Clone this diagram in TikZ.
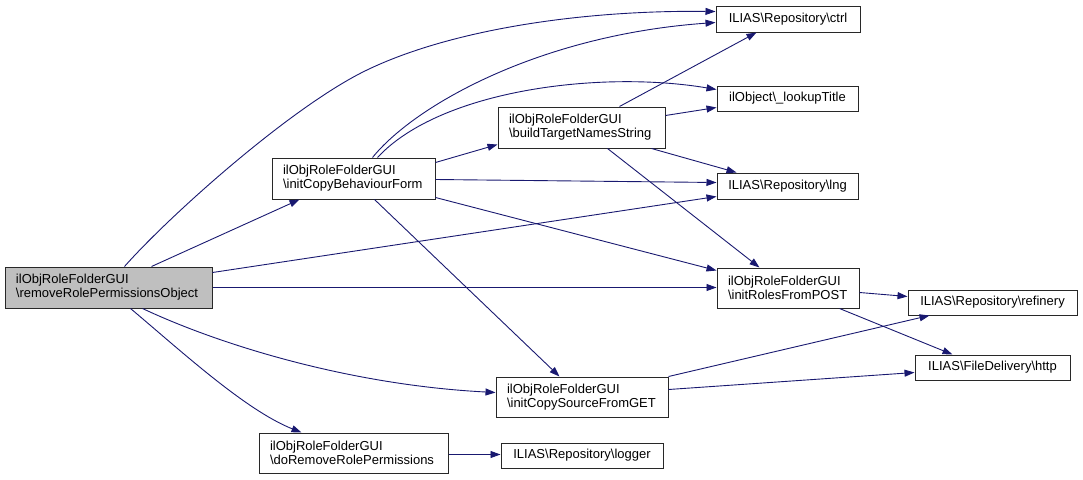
\documentclass[tikz,border=0pt]{standalone}
\usepackage{fontspec}
\setmainfont{Liberation Sans}
\usetikzlibrary{arrows.meta,calc}
\definecolor{edgec}{RGB}{25,25,112}
\definecolor{boxc}{RGB}{40,40,40}
\definecolor{mainfill}{RGB}{191,191,191}
\tikzset{
  fn/.style={draw=boxc, line width=1pt, fill=white, inner xsep=11pt, inner ysep=0pt,
    font=\fontsize{13}{14}\selectfont, align=left, anchor=center},
  one/.style={fn, align=center, inner xsep=0pt, minimum height=25pt},
  edge/.style={draw=edgec, line width=0.9pt, -{Triangle[length=10pt,width=7pt]}},
}
\begin{document}
\begin{tikzpicture}[x=1pt,y=-1pt]
\useasboundingbox (0,0) rectangle (1083,479);
% nodes
\node[fn, fill=mainfill, text width=185pt, minimum height=41pt] (main) at (108.5,287.5) {ilObjRoleFolderGUI\\\textbackslash removeRolePermissionsObject};
\node[fn, text width=141pt, minimum height=41pt] (icbf) at (353.5,178.5) {ilObjRoleFolderGUI\\\textbackslash initCopyBehaviourForm};
\node[fn, text width=145pt, minimum height=41pt] (btns) at (581.5,127.5) {ilObjRoleFolderGUI\\\textbackslash buildTargetNamesString};
\node[fn, text width=150pt, minimum height=40pt] (icsg) at (582,397) {ilObjRoleFolderGUI\\\textbackslash initCopySourceFromGET};
\node[fn, text width=167pt, minimum height=40pt] (drrp) at (353.5,453) {ilObjRoleFolderGUI\\\textbackslash doRemoveRolePermissions};
\node[fn, text width=120pt, minimum height=40pt] (irfp) at (788,288) {ilObjRoleFolderGUI\\\textbackslash initRolesFromPOST};
\node[one, minimum width=144pt, minimum height=26pt] (ctrl) at (788,19) {ILIAS\textbackslash Repository\textbackslash ctrl};
\node[one, minimum width=141pt] (lookup) at (787.5,98.5) {ilObject\textbackslash\_lookupTitle};
\node[one, minimum width=141pt, minimum height=26pt] (lng) at (787.5,186) {ILIAS\textbackslash Repository\textbackslash lng};
\node[one, minimum width=169pt] (refinery) at (992.5,302.5) {ILIAS\textbackslash Repository\textbackslash refinery};
\node[one, minimum width=155pt] (http) at (992.5,367.5) {ILIAS\textbackslash FileDelivery\textbackslash http};
\node[one, minimum width=162pt] (logger) at (582,455.5) {ILIAS\textbackslash Repository\textbackslash logger};
% edges from main
\draw[edge] ($(main.north west)+(120,0)$) .. controls (170,215) and (292,106) .. (367,70)
   .. controls (450,30) and (580,10) .. ($(ctrl.north west)+(0,6)$);
\draw[edge] ($(main.north west)+(147,0)$) -- ($(icbf.south west)+(28,0)$);
\draw[edge] ($(main.north east)+(0,6)$) -- ($(lng.north west)+(0,24)$);
\draw[edge] ($(main.north east)+(0,21)$) -- ($(irfp.north west)+(0,20)$);
\draw[edge] ($(main.south west)+(138,0)$) .. controls (220,345) and (350,385) .. ($(icsg.north west)+(0,16)$);
\draw[edge] ($(main.south west)+(126,0)$) .. controls (180,350) and (245,410) .. ($(drrp.north west)+(43,0)$);
% edges from initCopyBehaviourForm
\draw[edge] ($(icbf.north west)+(101,0)$) .. controls (415,105) and (540,35) .. ($(ctrl.north west)+(0,17)$);
\draw[edge] ($(icbf.north west)+(106,0)$) .. controls (440,90) and (600,70) .. ($(lookup.north west)+(0,4)$);
\draw[edge] ($(icbf.north east)+(0,5)$) -- ($(btns.north west)+(0,38)$);
\draw[edge] ($(icbf.north east)+(0,22)$) -- ($(lng.north west)+(0,10)$);
\draw[edge] ($(icbf.north east)+(0,40)$) -- ($(irfp.north west)+(0,3)$);
\draw[edge] ($(icbf.south west)+(103,0)$) -- ($(icsg.north west)+(64,0)$);
% edges from buildTargetNamesString
\draw[edge] ($(btns.north west)+(122,0)$) -- ($(ctrl.south west)+(41,0)$);
\draw[edge] ($(btns.north east)+(0,9)$) -- ($(lookup.north west)+(0,22)$);
\draw[edge] ($(btns.south west)+(154,0)$) -- ($(lng.north west)+(20,0)$);
\draw[edge] ($(btns.south west)+(110,0)$) -- ($(irfp.north west)+(43,0)$);
% edges from initRolesFromPOST
\draw[edge] ($(irfp.north east)+(0,25)$) -- ($(refinery.north west)+(0,7)$);
\draw[edge] ($(irfp.south west)+(123,0)$) -- ($(http.north west)+(38,0)$);
% edges from initCopySourceFromGET
\draw[edge] (icsg.north east) -- ($(refinery.south west)+(22,0)$);
\draw[edge] ($(icsg.north east)+(0,13)$) -- ($(http.north west)+(0,18)$);
% doRemoveRolePermissions
\draw[edge] ($(drrp.north east)+(0,22)$) -- ($(logger.north west)+(0,12)$);
\end{tikzpicture}
\end{document}
